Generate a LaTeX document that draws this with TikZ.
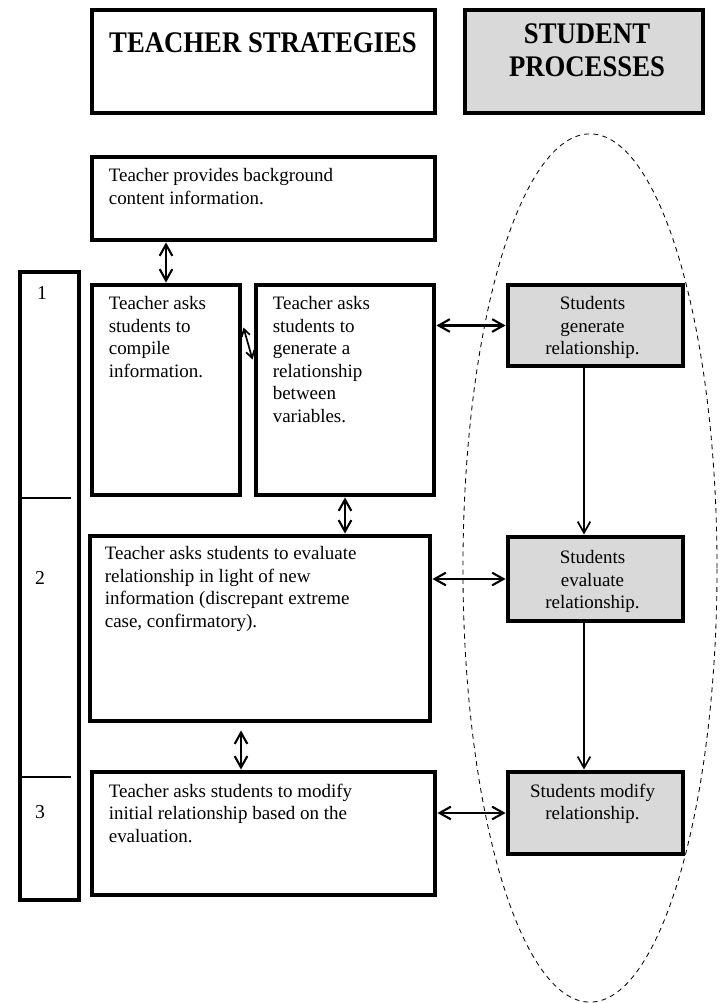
\documentclass[tikz,border=0pt]{standalone}
\usepackage{fontspec}
\setmainfont{Liberation Serif}
\usetikzlibrary{arrows.meta, positioning, fit, calc}

\begin{document}
\begin{tikzpicture}[x=0.025cm, y=-0.025cm,
    bigbox/.style={draw, line width=3.5pt, inner sep=0pt},
    stubox/.style={bigbox, fill=gray!30},
    bodytxt/.style={font=\fontsize{13.5}{16}\selectfont, inner sep=0pt, align=left, anchor=north west},
    stutxt/.style={font=\fontsize{13.5}{16}\selectfont, inner sep=0pt, align=center, anchor=north},
    headtxt/.style={font=\fontsize{19}{21}\selectfont\bfseries, inner sep=0pt, align=center, yscale=1.12},
    numtxt/.style={font=\fontsize{14}{16}\selectfont, inner sep=0pt},
    dblarrow/.style={{Straight Barb[length=8pt,width=9pt]}-{Straight Barb[length=8pt,width=9pt]}, line width=1.5pt},
    smallarrow/.style={{Straight Barb[length=5pt,width=6pt]}-{Straight Barb[length=5pt,width=6pt]}, line width=1.2pt},
    onearrow/.style={-{Straight Barb[length=8pt,width=9pt]}, line width=1.2pt}]

    \useasboundingbox (0,0) rectangle (720,1003);

    % Dashed ellipse round the student side
    \draw[dash pattern=on 3.5pt off 3pt, line width=0.6pt] (590,568) ellipse [x radius=3.175cm, y radius=10.85cm];

    % Headers
    \node[bigbox, fit={(92,10) (435,113)}] (tshead) {};
    \node[stubox, fit={(465,10) (703,113)}] (sphead) {};
    \node[headtxt] (tstitle) at (263,43) {TEACHER STRATEGIES};
    \node[headtxt] (sptitle) at (587,50) {STUDENT\\PROCESSES};

    % Background information
    \node[bigbox, fit={(92,157) (435,240)}] (tp) {};
    \node[bodytxt] (tptxt) at ($(tp.north west)+(19,14)$) {Teacher provides background\\content information.};

    % Phase column
    \node[bigbox, fit={(20,272) (79,900)}] (col) {};
    \draw[line width=0.8pt] (22,498) -- (71,498);
    \draw[line width=0.8pt] (22,777) -- (71,777);
    \node[numtxt] (num1) at (42,293) {1};
    \node[numtxt] (num2) at (40,578) {2};
    \node[numtxt] (num3) at (40,812) {3};

    % Phase 1
    \node[bigbox, fit={(92,285) (240,495)}] (comp) {};
    \node[bodytxt] (comptxt) at ($(comp.north west)+(19,14)$) {Teacher asks\\students to\\compile\\information.};
    \node[bigbox, fit={(256,285) (434,495)}] (gen) {};
    \node[bodytxt] (gentxt) at ($(gen.north west)+(19,14)$) {Teacher asks\\students to\\generate a\\relationship\\between\\variables.};
    \node[stubox, fit={(508,285) (683,366)}] (sgen) {};
    \node[stutxt] (sgentxt) at ($(sgen.north)+(-3,14)$) {Students\\generate\\relationship.};

    % Phase 2
    \node[bigbox, fit={(90,536) (430,721)}] (eval) {};
    \node[bodytxt] (evaltxt) at ($(eval.north west)+(17,13)$) {Teacher asks students to evaluate\\relationship in light of new\\information (discrepant extreme\\case, confirmatory).};
    \node[stubox, fit={(508,537) (683,621)}] (seval) {};
    \node[stutxt] (sevaltxt) at ($(seval.north)+(-3,16)$) {Students\\evaluate\\relationship.};

    % Phase 3
    \node[bigbox, fit={(92,772) (435,895)}] (mod) {};
    \node[bodytxt] (modtxt) at ($(mod.north west)+(19,14)$) {Teacher asks students to modify\\initial relationship based on the\\evaluation.};
    \node[stubox, fit={(508,772) (683,854)}] (smod) {};
    \node[stutxt] (smodtxt) at ($(smod.north)+(-3,14)$) {Students modify\\relationship.};

    % Teacher side arrows
    \coordinate (ex) at (241,0);
    \draw[dblarrow] (tp.south -| comp.north) -- (comp.north);
    \draw[smallarrow] ($(comp.north east)+(1,45)$) -- ($(gen.north west)+(-1,77)$);
    \draw[dblarrow] (gen.south) -- (gen.south |- eval.north);
    \draw[dblarrow] ([yshift=-5pt]eval.south -| ex) -- (mod.north -| ex);

    % Teacher to student arrows
    \draw[dblarrow] (sgen.west -| gen.east) -- (sgen.west);
    \draw[dblarrow] (seval.west -| eval.east) -- (seval.west);
    \draw[dblarrow] (smod.west -| mod.east) -- (smod.west);

    % Student side arrows
    \coordinate (vx) at (584,0);
    \draw[onearrow] (sgen.south -| vx) -- (seval.north -| vx);
    \draw[onearrow] (seval.south -| vx) -- (smod.north -| vx);
\end{tikzpicture}
\end{document}
